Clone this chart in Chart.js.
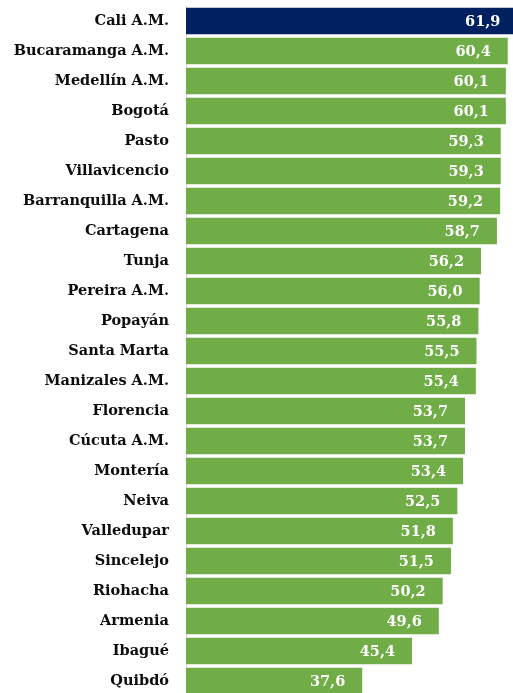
<!DOCTYPE html>
<html>
<head>
<meta charset="utf-8">
<script src="https://cdn.jsdelivr.net/npm/chart.js@4"></script>
<style>
  html, body { margin: 0; padding: 0; background: #fff; overflow: hidden; }
  #wrap { width: 520px; height: 700px; }
</style>
</head>
<body>
<div id="wrap"><canvas id="chart" width="520" height="700"></canvas></div>
<script>
const cities = [
  'Cali A.M.', 'Bucaramanga A.M.', 'Medellín A.M.', 'Bogotá', 'Pasto',
  'Villavicencio', 'Barranquilla A.M.', 'Cartagena', 'Tunja', 'Pereira A.M.',
  'Popayán', 'Santa Marta', 'Manizales A.M.', 'Florencia', 'Cúcuta A.M.',
  'Montería', 'Neiva', 'Valledupar', 'Sincelejo', 'Riohacha',
  'Armenia', 'Ibagué', 'Quibdó'
];
const values = [
  61.9, 60.4, 60.1, 60.1, 59.3,
  59.3, 59.2, 58.7, 56.2, 56.0,
  55.8, 55.5, 55.4, 53.7, 53.7,
  53.4, 52.5, 51.8, 51.5, 50.2,
  49.6, 45.4, 37.6
];
const highlight = 'Cali A.M.';

const labelFont = 'bold 14.5px "DejaVu Serif"';

// white value inside the end of each bar, decimal comma
const valueLabels = {
  id: 'valueLabels',
  afterDatasetsDraw(chart) {
    const ctx = chart.ctx;
    const meta = chart.getDatasetMeta(0);
    ctx.save();
    ctx.font = labelFont;
    ctx.fillStyle = '#ffffff';
    ctx.textAlign = 'right';
    ctx.textBaseline = 'middle';
    meta.data.forEach((bar, i) => {
      ctx.fillText(values[i].toFixed(1).replace('.', ','), bar.x - 17, bar.y + 1);
    });
    ctx.restore();
  }
};

new Chart(document.getElementById('chart'), {
  type: 'bar',
  data: {
    labels: cities,
    datasets: [{
      data: values,
      backgroundColor: cities.map(c => c === highlight ? '#002060' : '#70AD47'),
      barPercentage: 0.89,
      categoryPercentage: 1
    }]
  },
  options: {
    indexAxis: 'y',
    responsive: false,
    animation: false,
    layout: { padding: { top: 6, bottom: 4, left: 0, right: 2 } },
    plugins: {
      legend: { display: false },
      tooltip: { enabled: false }
    },
    scales: {
      x: {
        display: false,
        min: 10,
        max: 62
      },
      y: {
        afterFit(scale) {
          scale.width = 186;
          scale.paddingTop = 0;
          scale.paddingBottom = 0;
        },
        grid: { display: false, drawTicks: false },
        border: { display: true, color: '#d9d9d9', width: 1 },
        ticks: {
          padding: 17,
          color: '#0d0d0d',
          font: { family: 'DejaVu Serif', size: 14.5, weight: 'bold' }
        }
      }
    }
  },
  plugins: [valueLabels]
});
</script>
</body>
</html>
